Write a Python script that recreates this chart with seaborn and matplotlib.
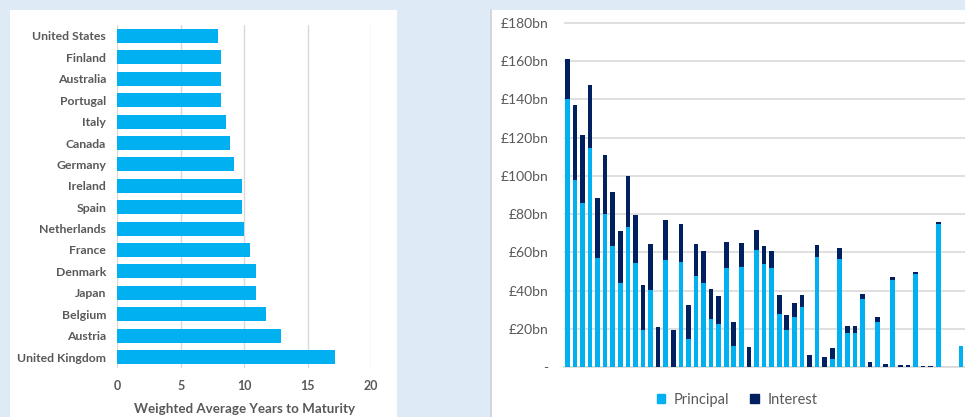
import matplotlib
matplotlib.use("Agg")
import matplotlib.pyplot as plt
import seaborn as sns
import pandas as pd
import numpy as np
from matplotlib.patches import Rectangle
from matplotlib.lines import Line2D

sns.set_theme(style="white")
plt.rcParams['font.family'] = ['Lato', 'DejaVu Sans']

# ---------------- Data ----------------
countries = ["United States", "Finland", "Australia", "Portugal", "Italy", "Canada",
             "Germany", "Ireland", "Spain", "Netherlands", "France", "Denmark",
             "Japan", "Belgium", "Austria", "United Kingdom"]
years_to_maturity = [7.9, 8.2, 8.2, 8.2, 8.6, 8.9, 9.2, 9.8, 9.8, 10.0, 10.5, 10.9,
                     10.95, 11.7, 12.9, 17.2]

principal = [140, 97.6, 85.8, 114.4, 57.2, 80.2, 63.3, 43.9, 73.4, 54.4,
             19.2, 40.5, 0, 55.8, 0, 54.9, 14.5, 47.8, 43.9, 24.9,
             22.7, 51.8, 10.8, 52.1, 0, 61.4, 53.7, 51.8, 27.7, 19.5,
             26.0, 31.2, 0, 57.5, 0, 4.4, 56.7, 18.0, 18.0, 35.4,
             0, 23.7, 0, 45.3, 0, 0, 48.5, 0, 0, 74.8,
             0, 0, 11.2]
interest = [21.0, 39.6, 35.6, 33.1, 31.0, 30.7, 28.1, 27.1, 26.7, 24.9,
            23.5, 23.7, 20.7, 20.9, 19.4, 20.1, 18.1, 16.5, 16.6, 15.9,
            14.6, 13.8, 12.7, 12.8, 10.6, 10.4, 9.8, 8.7, 9.8, 7.9,
            7.7, 6.6, 6.3, 6.3, 5.2, 5.5, 5.5, 3.4, 3.4, 3.0,
            2.6, 2.3, 1.7, 2.0, 1.2, 1.2, 1.4, 0.7, 0.7, 1.1,
            0, 0, 0]
y_ticks = [0, 20, 40, 60, 80, 100, 120, 140, 160, 180]
y_tick_labels = ["-", "£20bn", "£40bn", "£60bn", "£80bn", "£100bn", "£120bn",
                 "£140bn", "£160bn", "£180bn"]
legend_labels = ["Principal", "Interest"]
x_label_left = "Weighted Average Years to Maturity"

# ---------------- Styling ----------------
LIGHT = "#00B0F0"
DARK = "#002060"
GRAY_TXT = "#595959"
GRID = "#D9D9D9"
BG = "#DEEAF6"

W, H = 965, 417
fig = plt.figure(figsize=(W / 100, H / 100), dpi=100, facecolor=BG)

# white panels
fig.patches.append(Rectangle((10 / W, 0), (397 - 10) / W, 1 - 10 / H,
                             transform=fig.transFigure, facecolor="white",
                             edgecolor="none", zorder=-10))
fig.patches.append(Rectangle((491 / W, 0), (W - 491) / W + 0.01, 1 - 10 / H,
                             transform=fig.transFigure, facecolor="white",
                             edgecolor="none", zorder=-10))
fig.lines.append(Line2D([490.5 / W, 490.5 / W], [0, 1 - 10 / H],
                        transform=fig.transFigure, color="#CFCFCF", lw=1.2, zorder=-9))

# ---------------- Left chart ----------------
axL = fig.add_axes([117.3 / W, 1 - 367.7 / H, (371 - 117.3) / W, (367.7 - 25.3) / H])
axL.set_facecolor("none")
dfL = pd.DataFrame({"country": countries, "years": years_to_maturity})
sns.barplot(data=dfL, y="country", x="years", order=countries, color=LIGHT,
            saturation=1, width=0.66, linewidth=0, ax=axL, zorder=3)
axL.set_xlim(0, 20)
axL.set_xticks([0, 5, 10, 15, 20])
axL.xaxis.grid(True, color=GRID, lw=1)
axL.set_axisbelow(True)
for s in axL.spines.values():
    s.set_visible(False)
axL.set_ylabel("")
axL.set_xlabel(x_label_left, fontsize=9.6, fontweight="bold", color=GRAY_TXT, labelpad=8)
axL.tick_params(axis="y", length=0, pad=8, labelsize=8.8, labelcolor=GRAY_TXT)
axL.tick_params(axis="x", length=0, pad=9, labelsize=9, labelcolor=GRAY_TXT)
for t in axL.get_yticklabels() + axL.get_xticklabels():
    t.set_fontweight("bold")

# ---------------- Right chart ----------------
x0_px, step_px = 567.3, 7.57
xmin = -(x0_px - 564) / step_px
xmax = (W - x0_px) / step_px
y_top = 181
ppb = (367 - 23) / 180
top_px = 367 - y_top * ppb
axR = fig.add_axes([564 / W, 1 - 367 / H, (W - 564) / W, (367 - top_px) / H])
axR.set_facecolor("none")
idx = list(range(len(principal)))
total = [p + i for p, i in zip(principal, interest)]
dfR = pd.DataFrame({"idx": idx, "principal": principal, "total": total})
sns.barplot(data=dfR, x="idx", y="total", color=DARK, saturation=1, width=0.62,
            linewidth=0, ax=axR, zorder=3)
sns.barplot(data=dfR, x="idx", y="principal", color=LIGHT, saturation=1, width=0.62,
            linewidth=0, ax=axR, zorder=4)
axR.set_xlim(xmin, xmax)
axR.set_ylim(0, y_top)
axR.set_yticks(y_ticks)
axR.set_yticklabels(y_tick_labels)
axR.set_xticks([])
axR.set_xlabel("")
axR.set_ylabel("")
axR.yaxis.grid(True, color=GRID, lw=1.2)
axR.set_axisbelow(True)
for k, s in axR.spines.items():
    s.set_visible(k == "bottom")
axR.spines["bottom"].set_color(GRID)
axR.spines["bottom"].set_linewidth(1.2)
axR.tick_params(axis="y", length=0, pad=11, labelsize=10, labelcolor=GRAY_TXT)

handles = [Rectangle((0, 0), 1, 1, color=LIGHT), Rectangle((0, 0), 1, 1, color=DARK)]
fig.legend(handles, legend_labels, loc="center", bbox_to_anchor=(737 / W, 1 - 400 / H),
           ncol=2, frameon=False, fontsize=10.5, handlelength=0.6, handleheight=0.6,
           handletextpad=0.6, columnspacing=1.4, labelcolor=GRAY_TXT)

fig.savefig("out.png", dpi=100, facecolor=BG)
